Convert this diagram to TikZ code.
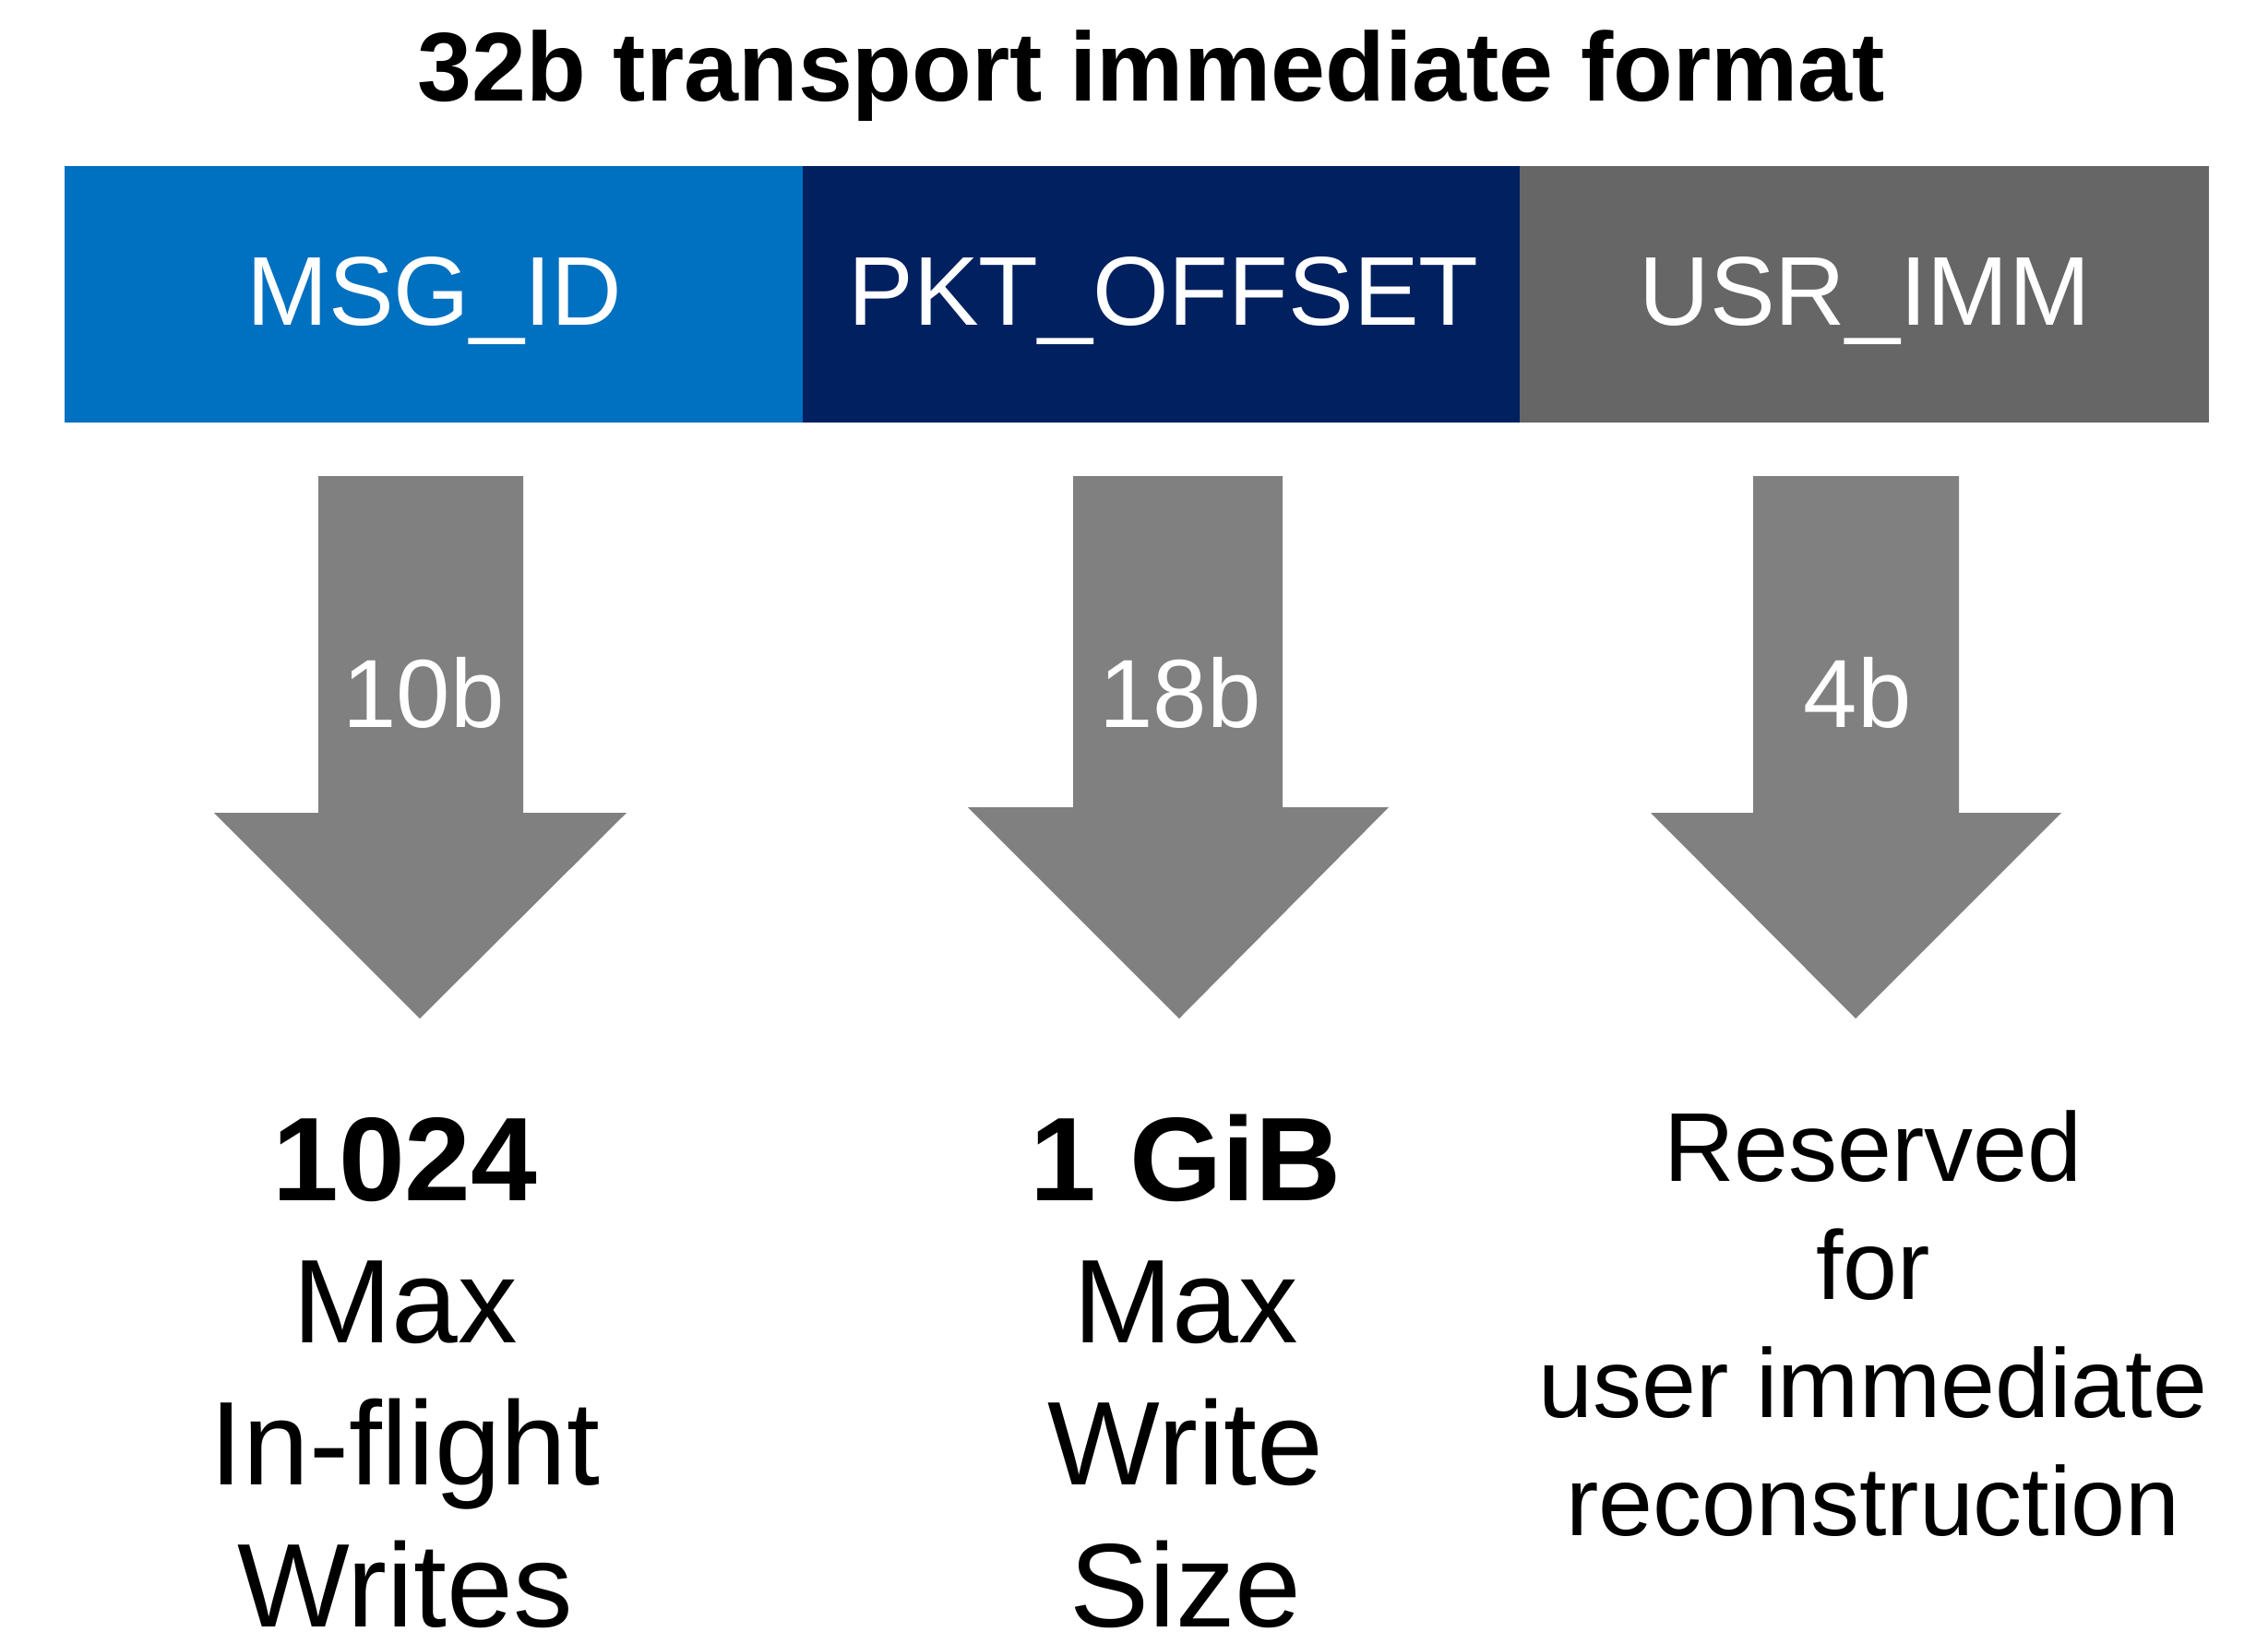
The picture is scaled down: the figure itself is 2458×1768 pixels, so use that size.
\documentclass[tikz,border=0pt]{standalone}
\usepackage{fontspec}
\setmainfont{Liberation Sans}

\definecolor{fieldblue}{HTML}{0070C0}
\definecolor{fieldnavy}{HTML}{002060}
\definecolor{fieldgray}{HTML}{666666}
\definecolor{arrowgray}{HTML}{808080}

\tikzset{
  basetext/.style={anchor=base, inner sep=0pt, outer sep=0pt},
  titletext/.style={basetext, font=\bfseries\fontsize{53}{64}\selectfont},
  fieldtext/.style={basetext, text=white, font=\fontsize{53}{64}\selectfont},
  bitstext/.style={basetext, text=white, font=\fontsize{52.5}{64}\selectfont},
  bigtext/.style={basetext, font=\fontsize{64.5}{77}\selectfont},
  smalltext/.style={basetext, font=\fontsize{53}{64}\selectfont},
  bigarrow/.style={fill=arrowgray, draw=none},
}

\begin{document}
\begin{tikzpicture}[x=0.5pt, y=-0.5pt]
  \useasboundingbox (0,0) rectangle (2458,1768);

  % heading
  \node[titletext] (title) at (1248,109) {32b transport immediate format};

  % the three fields of the 32-bit word
  \fill[fieldblue] (70,180) rectangle (871,458);
  \fill[fieldnavy] (870,180) rectangle (1648,458);
  \fill[fieldgray] (1647,180) rectangle (2394,458);
  \node[fieldtext] (msgid)  at (471,352)  {MSG\_ID};
  \node[fieldtext] (pktoff) at (1261,352) {PKT\_OFFSET};
  \node[fieldtext] (usrimm) at (2021,352) {USR\_IMM};

  % block arrows carrying the bit widths
  \fill[bigarrow] (345,516) -- (567,516) -- (567,881) -- (679,881)
                  -- (455,1104) -- (232,881) -- (345,881) -- cycle;
  \fill[bigarrow] (1163,516) -- (1390,516) -- (1390,875) -- (1505,875)
                  -- (1278,1104) -- (1049,875) -- (1163,875) -- cycle;
  \fill[bigarrow] (1900,516) -- (2123,516) -- (2123,881) -- (2234,881)
                  -- (2011,1104) -- (1789,881) -- (1900,881) -- cycle;
  \node[bitstext] (bits1) at (459,788)  {10b};
  \node[bitstext] (bits2) at (1279,788) {18b};
  \node[bitstext] (bits3) at (2013,788) {4b};

  % meaning of each field
  \node[bigtext] (c1a) at (439,1301) {\bfseries 1024};
  \node[bigtext] (c1b) at (439,1455) {Max};
  \node[bigtext] (c1c) at (439,1609) {In-flight};
  \node[bigtext] (c1d) at (439,1763) {Writes};

  \node[bigtext] (c2a) at (1285,1301) {\bfseries 1 GiB};
  \node[bigtext] (c2b) at (1285,1455) {Max};
  \node[bigtext] (c2c) at (1285,1609) {Write};
  \node[bigtext] (c2d) at (1285,1763) {Size};

  \node[smalltext] (c3a) at (2030,1280) {Reserved};
  \node[smalltext] (c3b) at (2030,1408) {for};
  \node[smalltext] (c3c) at (2030,1536) {user immediate};
  \node[smalltext] (c3d) at (2030,1664) {reconstruction};
\end{tikzpicture}
\end{document}
